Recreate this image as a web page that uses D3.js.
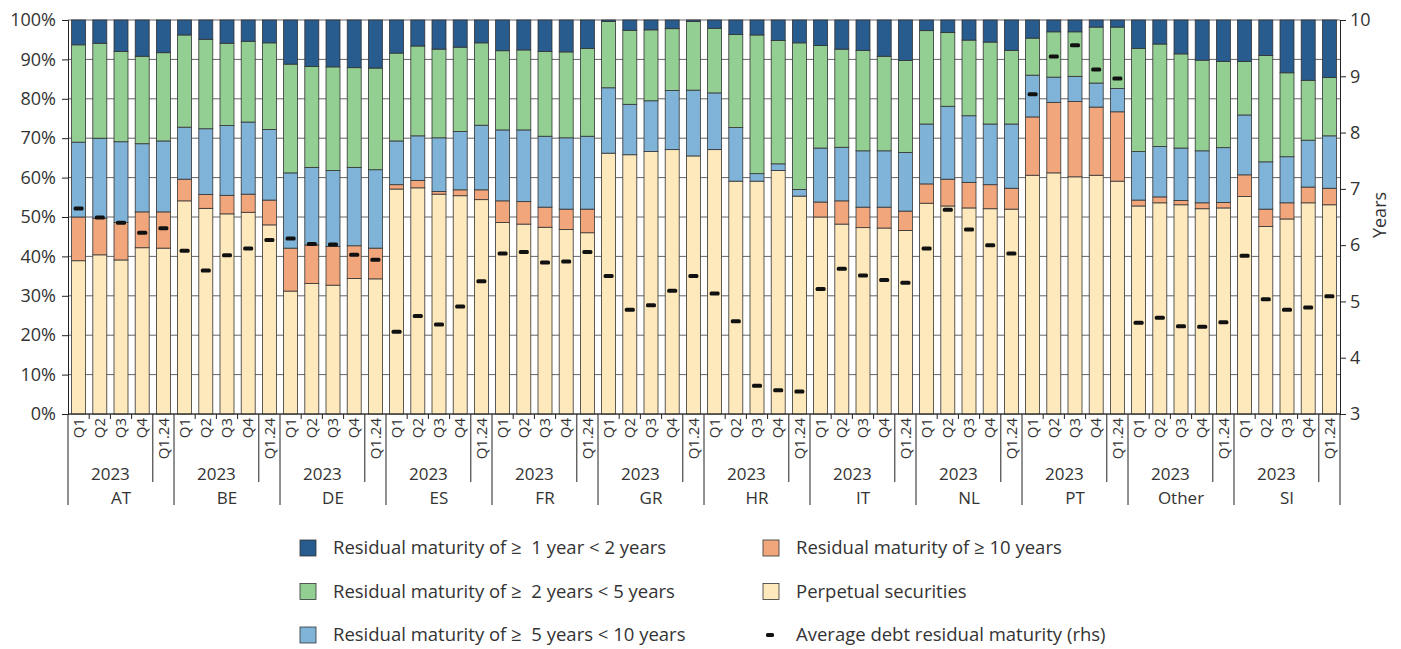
<!DOCTYPE html>
<html>
<head>
<meta charset="utf-8">
<script src="https://cdn.jsdelivr.net/npm/d3@7"></script>
<style>
  body { margin: 0; background: #fff; }
  svg text { font-family: "Open Sans", sans-serif; fill: #333; }
</style>
</head>
<body>
<div class="chart"></div>
<script>
// residual maturity shares per country, 2023 Q1..Q4 + Q1.24
const countries = ["AT", "BE", "DE", "ES", "FR", "GR", "HR", "IT", "NL", "PT", "Other", "SI"];
const quarters = ["Q1", "Q2", "Q3", "Q4", "Q1.24"];

const perpetual = [
  38.9, 40.4, 39.1, 42.2, 42.1,
  54.1, 52.2, 50.8, 51.2, 48.0,
  31.2, 33.1, 32.7, 34.4, 34.3,
  57.1, 57.4, 55.8, 55.4, 54.4,
  48.6, 48.2, 47.4, 46.8, 46.0,
  66.2, 65.8, 66.6, 67.1, 65.5,
  67.1, 59.1, 59.1, 61.8, 55.3,
  50.0, 48.2, 47.3, 47.2, 46.6,
  53.5, 52.8, 52.3, 52.1, 52.0,
  60.6, 61.2, 60.2, 60.6, 59.1,
  52.8, 53.6, 53.1, 52.1, 52.3,
  55.2, 47.6, 49.5, 53.6, 53.1
];
const over10 = [
  11.1, 9.3, 9.5, 9.1, 9.2,
  5.5, 3.5, 4.7, 4.6, 6.3,
  10.9, 9.8, 9.8, 8.3, 7.8,
  1.1, 1.9, 0.7, 1.5, 2.5,
  5.5, 5.7, 5.1, 5.2, 6.0,
  0, 0, 0, 0, 0,
  0, 0, 0, 0, 0,
  3.8, 5.9, 5.2, 5.3, 4.9,
  4.9, 6.8, 6.5, 6.1, 5.3,
  14.8, 17.9, 19.1, 17.3, 17.6,
  1.5, 1.5, 1.1, 1.5, 1.4,
  5.5, 4.4, 4.1, 4.0, 4.2
];
const from5to10 = [
  19.0, 20.3, 20.5, 17.3, 18.0,
  13.2, 16.7, 17.7, 18.3, 17.9,
  19.1, 19.7, 19.3, 19.9, 19.9,
  11.1, 11.3, 13.6, 14.8, 16.4,
  18.0, 18.2, 18.0, 18.1, 18.5,
  16.6, 12.8, 12.9, 15.0, 16.7,
  14.4, 13.6, 1.9, 1.7, 1.7,
  13.7, 13.6, 14.3, 14.3, 14.9,
  15.2, 18.5, 16.9, 15.4, 16.3,
  10.6, 6.4, 6.4, 6.1, 5.9,
  12.3, 12.8, 13.3, 13.2, 13.9,
  15.2, 12.0, 11.7, 11.9, 13.3
];
const from2to5 = [
  24.7, 24.1, 22.9, 22.2, 22.4,
  23.4, 22.7, 20.9, 20.5, 22.0,
  27.6, 25.6, 26.3, 25.3, 25.8,
  22.3, 22.8, 22.5, 21.4, 20.9,
  20.1, 20.3, 21.5, 21.8, 22.3,
  16.8, 18.8, 18.0, 15.7, 17.4,
  16.4, 23.6, 35.2, 31.3, 37.2,
  26.0, 24.9, 25.5, 24.0, 23.3,
  23.7, 18.7, 19.2, 20.8, 18.7,
  9.4, 11.5, 11.3, 14.2, 15.6,
  26.2, 26.0, 23.9, 23.0, 21.9,
  13.6, 27.0, 21.3, 15.2, 14.8
];
const from1to2 = [
  6.3, 5.9, 8.0, 9.2, 8.3,
  3.8, 4.9, 5.9, 5.4, 5.8,
  11.2, 11.8, 11.9, 12.1, 12.2,
  8.4, 6.6, 7.4, 6.9, 5.8,
  7.8, 7.6, 8.0, 8.1, 7.2,
  0.4, 2.6, 2.5, 2.2, 0.4,
  2.1, 3.7, 3.8, 5.2, 5.8,
  6.5, 7.4, 7.7, 9.2, 10.3,
  2.7, 3.2, 5.1, 5.6, 7.7,
  4.6, 3.0, 3.0, 1.8, 1.8,
  7.2, 6.1, 8.6, 10.2, 10.5,
  10.5, 9.0, 13.4, 15.3, 14.6
];
// average debt residual maturity, years (rhs)
const avgMaturity = [
  6.65, 6.49, 6.40, 6.22, 6.30,
  5.90, 5.55, 5.82, 5.94, 6.09,
  6.12, 6.02, 6.01, 5.83, 5.74,
  4.46, 4.74, 4.59, 4.91, 5.36,
  5.85, 5.88, 5.69, 5.71, 5.88,
  5.45, 4.85, 4.93, 5.19, 5.45,
  5.14, 4.65, 3.50, 3.42, 3.40,
  5.22, 5.58, 5.46, 5.38, 5.33,
  5.94, 6.63, 6.28, 6.00, 5.85,
  8.68, 9.35, 9.55, 9.12, 8.96,
  4.62, 4.71, 4.56, 4.55, 4.63,
  5.81, 5.04, 4.85, 4.89, 5.09
];

const series = [
  {key: "perpetual", values: perpetual, color: "#fee9bd", label: "Perpetual securities"},
  {key: "over10", values: over10, color: "#f2a67c", label: "Residual maturity of \u2265 10 years"},
  {key: "from5to10", values: from5to10, color: "#7fb3d8", label: "Residual maturity of \u2265  5 years < 10 years"},
  {key: "from2to5", values: from2to5, color: "#93cf93", label: "Residual maturity of \u2265  2 years < 5 years"},
  {key: "from1to2", values: from1to2, color: "#285b8e", label: "Residual maturity of \u2265  1 year < 2 years"}
];

const rows = [];
countries.forEach((c, gi) => quarters.forEach((q, qi) => {
  const i = gi * quarters.length + qi;
  const r = {id: c + "|" + q, country: c, quarter: q, avg: avgMaturity[i]};
  series.forEach(s => r[s.key] = s.values[i]);
  rows.push(r);
}));

const width = 1401, height = 649;
const mLeft = 68, mRight = 1340, mTop = 20, mBottom = 414;

const svg = d3.select(".chart").append("svg")
  .attr("width", width)
  .attr("height", height);

const x = d3.scaleBand()
  .domain(rows.map(d => d.id))
  .range([mLeft, mRight])
  .paddingInner(0.34)
  .paddingOuter(0.17);
const y = d3.scaleLinear().domain([0, 100]).range([mBottom, mTop]);
const yR = d3.scaleLinear().domain([3, 10]).range([mBottom, mTop]);
const color = d3.scaleOrdinal().domain(series.map(s => s.key)).range(series.map(s => s.color));

// gridlines
svg.append("g")
  .selectAll("line")
  .data(y.ticks(10))
  .join("line")
  .attr("x1", mLeft).attr("x2", mRight)
  .attr("y1", d => y(d)).attr("y2", d => y(d))
  .attr("stroke", "#666")
  .attr("stroke-width", 1);

// stacked bars
const stacked = d3.stack().keys(series.map(s => s.key))(rows);
svg.append("g")
  .selectAll("g")
  .data(stacked)
  .join("g")
  .attr("fill", d => color(d.key))
  .selectAll("rect")
  .data(d => d)
  .join("rect")
  .attr("x", d => x(d.data.id))
  .attr("width", x.bandwidth())
  .attr("y", d => y(d[1]))
  .attr("height", d => y(d[0]) - y(d[1]))
  .attr("stroke", "#333")
  .attr("stroke-width", 0.8);

// average maturity markers
svg.append("g")
  .selectAll("rect")
  .data(rows)
  .join("rect")
  .attr("x", d => x(d.id) + x.bandwidth() / 2 - 5)
  .attr("y", d => yR(d.avg) - 2)
  .attr("width", 10)
  .attr("height", 4)
  .attr("rx", 1.5)
  .attr("fill", "#111");

// left axis
const yAxis = svg.append("g")
  .attr("transform", `translate(${mLeft},0)`)
  .call(d3.axisLeft(y).ticks(10).tickFormat(d => d + "%").tickSize(6).tickPadding(6));
yAxis.selectAll("text").style("font-size", "18px");

// right axis
const yAxisR = svg.append("g")
  .attr("transform", `translate(${mRight},0)`)
  .call(d3.axisRight(yR).ticks(7).tickSize(6).tickPadding(4));
yAxisR.selectAll("text").style("font-size", "18px");
svg.selectAll(".domain, .tick line").attr("stroke", "#222");

svg.append("text")
  .attr("transform", `translate(1380,${(mTop + mBottom) / 2 - 2}) rotate(-90)`)
  .attr("text-anchor", "middle")
  .attr("dy", "0.35em")
  .style("font-size", "18px")
  .text("Years");

// category axis
const xAxis = svg.append("g");
xAxis.append("line")
  .attr("x1", mLeft).attr("x2", mRight)
  .attr("y1", mBottom).attr("y2", mBottom)
  .attr("stroke", "#222");

const step = x.step();
xAxis.selectAll(".qtick")
  .data(d3.range(rows.length + 1))
  .join("line")
  .attr("x1", i => mLeft + i * step).attr("x2", i => mLeft + i * step)
  .attr("y1", mBottom)
  .attr("y2", i => i % 5 === 0 ? 505 : (i % 5 === 4 ? 482 : mBottom + 5))
  .attr("stroke", "#222");

xAxis.selectAll(".qlabel")
  .data(rows)
  .join("text")
  .attr("transform", d => `translate(${x(d.id) + x.bandwidth() / 2},${mBottom + 4}) rotate(-90)`)
  .attr("text-anchor", "end")
  .attr("dy", "0.35em")
  .style("font-size", "15px")
  .text(d => d.quarter);

xAxis.selectAll(".year")
  .data(countries)
  .join("text")
  .attr("x", (c, gi) => mLeft + (gi * 5 + 2) * step)
  .attr("y", 474)
  .attr("text-anchor", "middle")
  .attr("dy", "0.35em")
  .style("font-size", "17px")
  .text("2023");

xAxis.selectAll(".country")
  .data(countries)
  .join("text")
  .attr("x", (c, gi) => mLeft + (gi * 5 + 2.5) * step)
  .attr("y", 498)
  .attr("text-anchor", "middle")
  .attr("dy", "0.35em")
  .style("font-size", "17px")
  .text(c => c);

// legend
const legendItems = [
  {s: series[4], col: 0, row: 0},
  {s: series[3], col: 0, row: 1},
  {s: series[2], col: 0, row: 2},
  {s: series[1], col: 1, row: 0},
  {s: series[0], col: 1, row: 1},
  {s: null, col: 1, row: 2, label: "Average debt residual maturity (rhs)"}
];
const legend = svg.append("g")
  .selectAll("g")
  .data(legendItems)
  .join("g")
  .attr("transform", d => `translate(${d.col ? 763 : 300},${548 + d.row * 43.5})`);

legend.filter(d => d.s)
  .append("rect")
  .attr("x", 0).attr("y", -8)
  .attr("width", 16).attr("height", 16)
  .attr("fill", d => d.s.color)
  .attr("stroke", "#333")
  .attr("stroke-width", 0.8);

legend.filter(d => !d.s)
  .append("rect")
  .attr("x", 3).attr("y", -2)
  .attr("width", 8).attr("height", 4)
  .attr("rx", 1.5)
  .attr("fill", "#111");

legend.append("text")
  .attr("x", 33)
  .attr("dy", "0.35em")
  .style("font-size", "18.5px")
  .style("white-space", "pre")
  .text(d => d.s ? d.s.label : d.label);
</script>
</body>
</html>
